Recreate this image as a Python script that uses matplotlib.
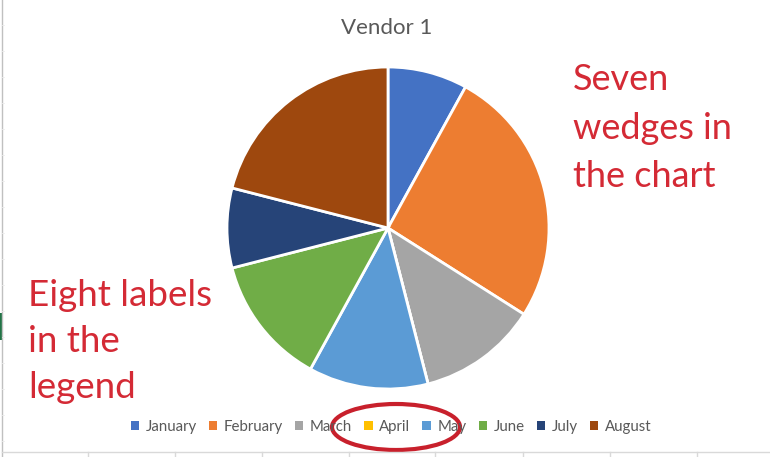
import matplotlib
matplotlib.use("Agg")
import matplotlib.pyplot as plt
from matplotlib.patches import Patch, Ellipse, Rectangle
from matplotlib.lines import Line2D

# data (April is zero, so no wedge)
months = ["January", "February", "March", "April", "May", "June", "July", "August"]
values = [8, 26, 12, 0, 12, 13, 8, 21]
colors = ["#4472C4", "#ED7D31", "#A5A5A5", "#FFC000", "#5B9BD5", "#70AD47", "#264478", "#9E480E"]

title = "Vendor 1"
note_right = ["Seven", "wedges in", "the chart"]
note_left = ["Eight labels", "in the", "legend"]

W, H = 770, 457
red = "#D42A35"
grey_txt = "#595959"
font = "Lato"

fig = plt.figure(figsize=(W / 100, H / 100), dpi=100)
fig.patch.set_facecolor("white")


def fx(px):
    return px / W


def fy(py):
    return 1 - py / H


# faint spreadsheet cell lines behind the chart
fig.add_artist(Line2D([fx(2), fx(2)], [0, 1], color="#c0c0c0", lw=1))
fig.add_artist(Line2D([fx(2), 1], [fy(452), fy(452)], color="#d9d9d9", lw=1))
for x in [88, 175, 262, 349, 435, 523, 610, 697]:
    fig.add_artist(Line2D([fx(x), fx(x)], [fy(452), 0], color="#d9d9d9", lw=1))
for y in range(25, 450, 26):
    fig.add_artist(Line2D([fx(2), fx(4)], [fy(y), fy(y)], color="#ececec", lw=0.6))
fig.add_artist(Rectangle((0, fy(340)), fx(2.5), (340 - 313) / H,
                         transform=fig.transFigure, color="#217346", lw=0))

# pie
cx, cy, r = 388, 228, 161
ax = fig.add_axes([fx(cx - r), fy(cy + r), 2 * r / W, 2 * r / H])
ax.pie(values, colors=colors, startangle=90, counterclock=False, radius=1,
       wedgeprops=dict(edgecolor="white", linewidth=2))
ax.set_xlim(-1.0, 1.0)
ax.set_ylim(-1.0, 1.0)
ax.axis("off")

fig.text(fx(387), fy(28), title, ha="center", va="center", fontsize=16,
         color=grey_txt, family=font)

# legend with all eight months
handles = [Patch(facecolor=c, edgecolor="none") for c in colors]
fig.legend(handles, months, loc="center", bbox_to_anchor=(fx(391), fy(427)),
           ncol=8, frameon=False, handlelength=0.55, handleheight=0.55,
           handletextpad=0.45, columnspacing=0.8,
           prop=dict(family=font, size=10.8), labelcolor=grey_txt)

# red callouts
for i, line in enumerate(note_right):
    fig.text(fx(573), fy(80 + 48.5 * i), line, ha="left", va="center",
             fontsize=26, color=red, family=font)
for i, line in enumerate(note_left):
    fig.text(fx(28), fy(295 + 46.5 * i), line, ha="left", va="center",
             fontsize=26.5, color=red, family=font)

fig.add_artist(Ellipse((fx(396), fy(427)), 128 / W, 46 / H,
                       transform=fig.transFigure, fill=False,
                       edgecolor="#C8202C", lw=3))

fig.savefig("out.png", dpi=100)
